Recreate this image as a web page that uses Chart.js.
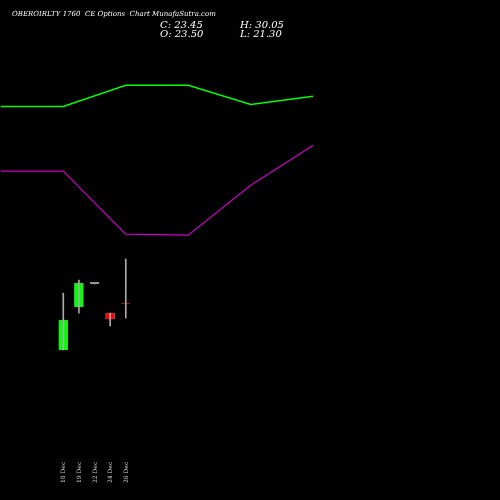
<!DOCTYPE html>
<html><head><meta charset="utf-8">
<script src="https://cdn.jsdelivr.net/npm/chart.js@4"></script>
<style>html,body{margin:0;background:#000}#wrap{width:500px;height:500px;position:relative}</style>
</head><body><div id="wrap"><canvas id="c"></canvas></div>
<script>
const dates = ["18 Dec", "19 Dec", "22 Dec", "24 Dec", "26 Dec"];
const opens = [16.55, 22.93, 26.34, 22.04, 23.50];
const highs = [25.00, 26.94, 26.34, 22.04, 30.05];
const lows = [16.55, 22.04, 26.34, 20.12, 21.30];
const closes = [21.00, 26.49, 26.34, 21.15, 23.45];
const candleX = [4, 5, 6, 7, 8];
const lineX = [0, 4, 8, 12, 16, 20];
const upperLine = [52.7, 52.7, 55.85, 55.85, 53.0, 54.2];
const lowerLine = [43.1, 43.1, 33.76, 33.6, 41.0, 46.96];

const colors = closes.map((c, i) => c > opens[i] ? "#00ff00" : c < opens[i] ? "#ff0000" : "#999999");
const labelPlugin = {
  id: "labels",
  afterDraw(chart) {
    const g = chart.ctx, xs = chart.scales.x;
    g.save();
    g.fillStyle = "#fff";
    g.font = "italic 7px 'DejaVu Serif'";
    g.fillText("OBEROIRLTY 1760  CE Options  Chart MunafaSutra.com", 12, 16);
    g.font = "italic 10px 'DejaVu Serif'";
    g.fillText("C: 23.45", 160, 28);
    g.fillText("O: 23.50", 160, 37);
    g.fillText("H: 30.05", 240, 28);
    g.fillText("L: 21.30", 240, 37);
    g.font = "6px 'DejaVu Serif'";
    g.fillStyle = "#ccc";
    dates.forEach((d, i) => {
      g.save();
      g.translate(xs.getPixelForValue(candleX[i]) + 2, 483);
      g.rotate(-Math.PI / 2);
      g.fillText(d, 0, 0);
      g.restore();
    });
    g.restore();
  }
};
new Chart(document.getElementById("c"), {
  type: "bar",
  data: {
    datasets: [
      { type: "line", data: lineX.map((x, i) => ({ x, y: upperLine[i] })), borderColor: "#00ff00", borderWidth: 1.5, pointRadius: 0, tension: 0 },
      { type: "line", data: lineX.map((x, i) => ({ x, y: lowerLine[i] })), borderColor: "#cc00cc", borderWidth: 1.2, pointRadius: 0, tension: 0 },
      { data: candleX.map((x, i) => ({ x, y: [lows[i], highs[i]] })), backgroundColor: "#aaaaaa", barThickness: 1, grouped: false },
      { data: candleX.map((x, i) => ({ x, y: [opens[i], opens[i] === closes[i] ? closes[i] + 0.25 : closes[i]] })), backgroundColor: colors, borderColor: "#888", borderWidth: 0.5, barThickness: 9, grouped: false }
    ]
  },
  options: {
    responsive: true, maintainAspectRatio: false, animation: false,
    layout: { padding: 0 },
    plugins: { legend: { display: false }, tooltip: { enabled: false } },
    scales: {
      x: { type: "linear", min: -0.05, max: 31.95, offset: false, display: false },
      y: { min: -5.7, max: 68.5, display: false }
    }
  },
  plugins: [labelPlugin]
});
</script></body></html>
